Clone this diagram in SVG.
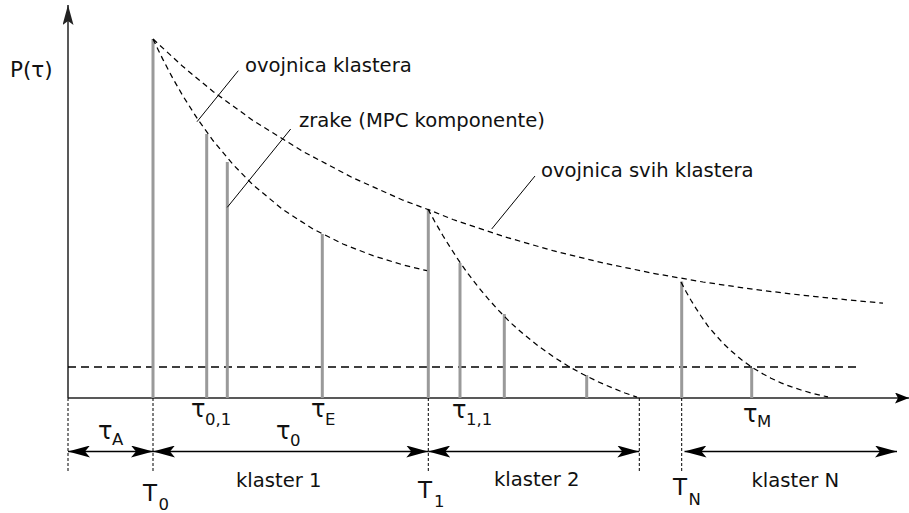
<svg xmlns="http://www.w3.org/2000/svg" width="909" height="513" viewBox="0 0 909 513">
<defs>
<style>
text{font-family:"DejaVu Sans","Liberation Sans",sans-serif;fill:#111}
.lbl{font-size:19.6px}
.sym{font-size:24px}
.tsym{font-size:23px}
.sub{font-size:16.5px}
.axis{stroke:#222;stroke-width:1.5;fill:none}
.bar{stroke:#9a9a9a;stroke-width:3;fill:none}
.env{stroke:#000;stroke-width:1.25;stroke-dasharray:5.5 4;fill:none}
.thr{stroke:#000;stroke-width:1.3;stroke-dasharray:8 5;fill:none}
.guide{stroke:#000;stroke-width:1;stroke-dasharray:3 2;fill:none}
.lead{stroke:#000;stroke-width:1;fill:none}
.dim{stroke:#000;stroke-width:1.5;fill:none;marker-start:url(#dimhead);marker-end:url(#dimhead)}
</style>
<marker id="dimhead" viewBox="0 0 22 12" refX="22" refY="6" markerWidth="22" markerHeight="12" markerUnits="userSpaceOnUse" orient="auto-start-reverse">
<path d="M0,0 L22,6 L0,12 L5,6 Z" fill="#000"/>
</marker>
<marker id="yhead" viewBox="0 0 20 11" refX="20" refY="5.5" markerWidth="20" markerHeight="11" markerUnits="userSpaceOnUse" orient="auto">
<path d="M0,0 L20,5.5 L0,11 L4,5.5 Z" fill="#222"/>
</marker>
<marker id="xhead" viewBox="0 0 14 11" refX="14" refY="5.5" markerWidth="14" markerHeight="11" markerUnits="userSpaceOnUse" orient="auto">
<path d="M0,0 L14,5.5 L0,11 L3,5.5 Z" fill="#000"/>
</marker>
</defs>
<rect width="909" height="513" fill="#fff"/>

<g id="axes">
<line class="axis" x1="68" y1="398" x2="68" y2="5" marker-end="url(#yhead)"/>
<line class="axis" x1="68" y1="398" x2="909" y2="398" marker-end="url(#xhead)"/>
<text id="ylabel" x="10" y="77" style="font-size:21.5px">P(τ)</text>
</g>

<g id="threshold">
<line class="thr" x1="68" y1="367" x2="856" y2="367"/>
</g>

<g id="rays">
<line class="bar" x1="153" y1="39" x2="153" y2="398"/>
<line class="bar" x1="206.7" y1="134" x2="206.7" y2="398"/>
<line class="bar" x1="227.3" y1="162" x2="227.3" y2="398"/>
<line class="bar" x1="322.3" y1="234" x2="322.3" y2="398"/>
<line class="bar" x1="428.3" y1="209" x2="428.3" y2="398"/>
<line class="bar" x1="460" y1="263" x2="460" y2="398"/>
<line class="bar" x1="504.3" y1="314" x2="504.3" y2="398"/>
<line class="bar" x1="586.7" y1="375" x2="586.7" y2="398"/>
<line class="bar" x1="681.7" y1="281.5" x2="681.7" y2="398"/>
<line class="bar" x1="751.7" y1="368" x2="751.7" y2="398"/>
</g>

<g id="envelopes">
<polyline id="env-cluster1" class="env" points="153,39 158,49.5 163,59.6 168,69.3 173,78.6 183,96.1 198,119.7 213,140.5 233,164.5 253,184.9 283,209.7 313,229 343,244 373,255.7 403,264.9 427,270.7"/>
<polyline id="env-all" class="env" points="153,39 183,66.6 213,91.5 253,120.5 303,151.5 353,177.9 403,200.2 428,209.5 453,219.5 503,236.3 553,250.7 603,262.9 653,273.3 703,282 753,289.3 803,295.3 853,300.4 883,303.1"/>
<polyline id="env-cluster2" class="env" points="428,209 435,222 443,235.8 450,247 458,259.4 468,273.7 478,286.7 488,298.6 498,309.8 510,322.2 523,333.7 538,345.8 553,356.5 568,366 583,374.3 598,381.7 613,388.2 625,393 637,397.1"/>
<polyline id="env-clusterN" class="env" points="681,282 686,291.5 691,300.3 696,308.4 701,316 708,326.1 716,335.4 723,343.1 731,350.8 741,359.3 751,366.6 761,372.8 771,378.2 781,382.9 791,386.7 801,390 811,392.9 820,395.2 828,396.9"/>
</g>

<g id="leaders">
<line class="lead" x1="197" y1="121.7" x2="238.3" y2="70.7"/>
<line class="lead" x1="227.3" y1="207.3" x2="290.7" y2="129"/>
<line class="lead" x1="491.7" y1="229" x2="535" y2="176"/>
</g>

<g id="top-labels">
<text class="lbl" x="245" y="72">ovojnica klastera</text>
<text class="lbl" x="299" y="127">zrake (MPC komponente)</text>
<text class="lbl" x="541" y="177">ovojnica svih klastera</text>
</g>

<g id="guides">
<line class="guide" x1="68" y1="398" x2="68" y2="472"/>
<line class="guide" x1="153" y1="398" x2="153" y2="472"/>
<line class="guide" x1="428.3" y1="398" x2="428.3" y2="472"/>
<line class="guide" x1="639.3" y1="398" x2="639.3" y2="472"/>
<line class="guide" x1="681.7" y1="398" x2="681.7" y2="472"/>
</g>

<g id="dimensions">
<line class="dim" x1="68" y1="451.5" x2="153" y2="451.5"/>
<line class="dim" x1="153" y1="451.5" x2="428.3" y2="451.5"/>
<line class="dim" x1="428.3" y1="451.5" x2="639.3" y2="451.5"/>
<line class="dim" x1="684.5" y1="451.5" x2="897" y2="451.5"/>
</g>

<g id="axis-labels">
<text class="sym" x="98" y="439">τ<tspan class="sub" x="112" y="444.5">A</tspan></text>
<text class="sym" x="191" y="417">τ<tspan class="sub" x="205" y="425">0,1</tspan></text>
<text class="sym" x="276" y="438.5">τ<tspan class="sub" x="290" y="446">0</tspan></text>
<text class="sym" x="311" y="417">τ<tspan class="sub" x="325" y="425">E</tspan></text>
<text class="sym" x="452" y="418">τ<tspan class="sub" x="466" y="425">1,1</tspan></text>
<text class="sym" x="743" y="421.5">τ<tspan class="sub" x="757" y="427">M</tspan></text>
<text class="tsym" x="143" y="501">T<tspan class="sub" x="158.5" y="510">0</tspan></text>
<text class="tsym" x="418" y="498">T<tspan class="sub" x="434" y="506.5">1</tspan></text>
<text class="tsym" x="673" y="495">T<tspan class="sub" x="688.5" y="505">N</tspan></text>
<text class="lbl" x="236" y="486.5">klaster 1</text>
<text class="lbl" x="494" y="486">klaster 2</text>
<text class="lbl" x="751.5" y="486.5">klaster N</text>
</g>
</svg>
